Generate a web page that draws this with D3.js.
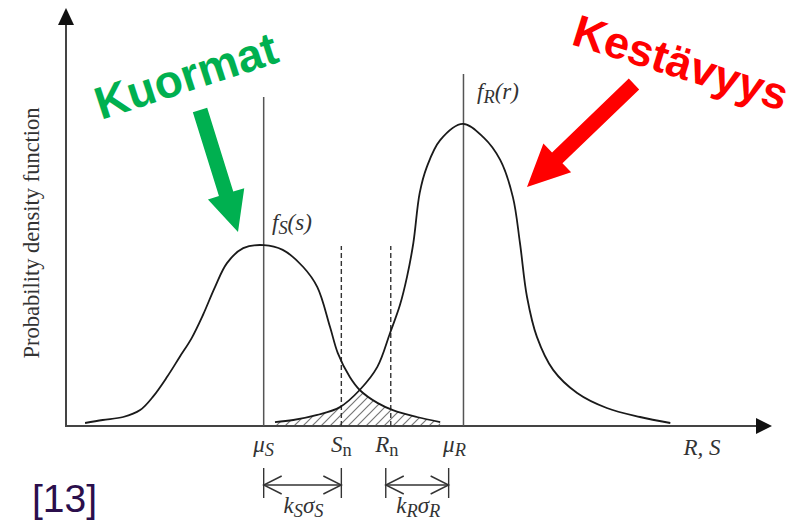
<!DOCTYPE html>
<html>
<head>
<meta charset="utf-8">
<script src="https://cdn.jsdelivr.net/npm/d3@7"></script>
<style>
    html, body { margin: 0; padding: 0; background: #fff; }
    #mainDiv { width: 809px; height: 524px; }
</style>
</head>
<body>
<div id="mainDiv"></div>
<script>
// Load (S) and resistance (R) density curves
var sX = [0.27, 0.52, 0.81, 1.05, 1.23, 1.43, 1.61, 1.78, 1.94, 2.11, 2.28, 2.51, 2.80, 3.07, 3.36, 3.56, 3.74, 3.85, 4.02, 4.16, 4.41, 4.63, 4.97, 5.30];
var sY = [0.01, 0.02, 0.03, 0.053, 0.097, 0.163, 0.23, 0.293, 0.37, 0.463, 0.543, 0.593, 0.603, 0.587, 0.53, 0.463, 0.33, 0.243, 0.163, 0.12, 0.077, 0.053, 0.03, 0.013];
var rX = [2.96, 3.22, 3.56, 3.88, 4.16, 4.41, 4.59, 4.73, 4.83, 4.92, 5.01, 5.11, 5.30, 5.62, 5.91, 6.15, 6.33, 6.43, 6.53, 6.67, 6.90, 7.24, 7.66, 8.13, 8.56];
var rY = [0.013, 0.02, 0.037, 0.063, 0.12, 0.197, 0.31, 0.403, 0.497, 0.61, 0.777, 0.863, 0.953, 1.007, 0.963, 0.887, 0.763, 0.61, 0.43, 0.297, 0.187, 0.11, 0.06, 0.03, 0.01];

// Tick labels on the R, S axis
var tickNames = [ [ 'μ', 'S' ], [ 'S', 'n' ], [ 'R', 'n' ], [ 'μ', 'R' ] ];
var tickValues = [ 2.80, 3.90, 4.60, 5.63 ];

// k*sigma spans
var spanFrom = [ 2.80, 4.50 ];
var spanTo = [ 3.90, 5.42 ];
var spanNames = [ [ 'k', 'S', 'σ', 'S' ], [ 'k', 'R', 'σ', 'R' ] ];

var Chart = Chart || {};

Chart.main = function () {

    var _width = 809, _height = 524,
        _serif = '"Liberation Serif", "DejaVu Serif", serif',
        _sans = '"Liberation Sans", Arial, sans-serif',
        _fs = 23,
        _x = d3.scaleLinear().domain( [ 0, 10 ] ).range( [ 66, 772 ] ),
        _y = d3.scaleLinear().domain( [ 0, 1 ] ).range( [ 426, 126 ] ),
        _svg, _defs, _g;

    _svg = d3.select( '#mainDiv' )
        .append( 'svg' )
        .attr( 'width', _width )
        .attr( 'height', _height );

    _defs = _svg.append( 'defs' );
    _g = _svg.append( 'g' );

    // subscript text helper: parts alternate main / sub
    var _rich = function ( sel, parts, fontSize ) {
        parts.forEach( function ( p, i ) {
            var isSub = i % 2 === 1;
            var sub = sel.append( 'tspan' )
                .attr( 'font-style', ( p === 'n' ) ? 'normal' : 'italic' )
                .attr( 'font-size', isSub ? fontSize * 0.8 : fontSize )
                .text( p );
            if ( isSub ) {
                sub.attr( 'dy', 4 );
            } else if ( i > 0 ) {
                sub.attr( 'dy', -4 );
            }
        } );
        return sel;
    };

    var sPts = sX.map( function ( d, i ) { return [ d, sY[ i ] ]; } ),
        rPts = rX.map( function ( d, i ) { return [ d, rY[ i ] ]; } );

    var line = d3.line()
        .x( function ( d ) { return _x( d[ 0 ] ); } )
        .y( function ( d ) { return _y( d[ 1 ] ); } )
        .curve( d3.curveCatmullRom.alpha( 0.5 ) );

    var area = d3.area()
        .x( function ( d ) { return _x( d[ 0 ] ); } )
        .y0( _y( 0 ) )
        .y1( function ( d ) { return _y( d[ 1 ] ); } )
        .curve( d3.curveCatmullRom.alpha( 0.5 ) );

    // hatch pattern for the overlap
    var pat = _defs.append( 'pattern' )
        .attr( 'id', 'hatch' )
        .attr( 'patternUnits', 'userSpaceOnUse' )
        .attr( 'width', 9 )
        .attr( 'height', 9 );
    pat.append( 'path' )
        .attr( 'd', 'M-2,2 l4,-4 M0,9 l9,-9 M7,11 l4,-4' )
        .attr( 'stroke', '#777' )
        .attr( 'stroke-width', 1.2 );

    _defs.append( 'clipPath' )
        .attr( 'id', 'underS' )
        .append( 'path' )
        .attr( 'd', area( sPts ) );

    _g.append( 'path' )
        .attr( 'd', area( rPts ) )
        .attr( 'fill', 'url(#hatch)' )
        .attr( 'clip-path', 'url(#underS)' );

    // axes
    _g.append( 'line' )
        .attr( 'x1', _x( 0 ) ).attr( 'y1', _y( 0 ) )
        .attr( 'x2', _x( 0 ) ).attr( 'y2', 22 )
        .attr( 'stroke', '#444' ).attr( 'stroke-width', 2 );
    _g.append( 'path' )
        .attr( 'd', 'M' + _x( 0 ) + ',8 L' + ( _x( 0 ) - 8 ) + ',25 L' + ( _x( 0 ) + 8 ) + ',25 Z' )
        .attr( 'fill', '#111' );
    _g.append( 'line' )
        .attr( 'x1', _x( 0 ) - 1 ).attr( 'y1', _y( 0 ) )
        .attr( 'x2', _x( 10 ) - 14 ).attr( 'y2', _y( 0 ) )
        .attr( 'stroke', '#444' ).attr( 'stroke-width', 2 );
    _g.append( 'path' )
        .attr( 'd', 'M' + _x( 10 ) + ',' + _y( 0 ) + ' L' + ( _x( 10 ) - 16 ) + ',' + ( _y( 0 ) - 8 ) + ' L' + ( _x( 10 ) - 16 ) + ',' + ( _y( 0 ) + 8 ) + ' Z' )
        .attr( 'fill', '#111' );

    // mean lines (solid) and nominal values (dashed)
    var lineTops = [ 1.097, 0.6, 0.6, 1.173 ];
    tickValues.forEach( function ( v, i ) {
        var dashed = ( i === 1 || i === 2 );
        _g.append( 'line' )
            .attr( 'x1', _x( v ) ).attr( 'x2', _x( v ) )
            .attr( 'y1', _y( 0 ) ).attr( 'y2', _y( lineTops[ i ] ) )
            .attr( 'stroke', dashed ? '#333' : '#555' )
            .attr( 'stroke-width', dashed ? 1.4 : 1.5 )
            .attr( 'stroke-dasharray', dashed ? '5,3' : null );
    } );

    // curves
    [ sPts, rPts ].forEach( function ( pts ) {
        _g.append( 'path' )
            .attr( 'd', line( pts ) )
            .attr( 'fill', 'none' )
            .attr( 'stroke', '#1a1a1a' )
            .attr( 'stroke-width', 1.8 );
    } );

    // tick labels
    var tickDx = [ 0, 0, -4, -9 ];
    tickValues.forEach( function ( v, i ) {
        var t = _g.append( 'text' )
            .attr( 'x', _x( v ) + tickDx[ i ] )
            .attr( 'y', 452 )
            .attr( 'text-anchor', 'middle' )
            .attr( 'font-family', _serif )
            .attr( 'fill', '#333' );
        _rich( t, tickNames[ i ], _fs );
    } );

    _g.append( 'text' )
        .attr( 'x', 702 ).attr( 'y', 455 )
        .attr( 'text-anchor', 'middle' )
        .attr( 'font-family', _serif )
        .attr( 'font-style', 'italic' )
        .attr( 'font-size', _fs )
        .attr( 'fill', '#333' )
        .text( 'R, S' );

    // k sigma dimension arrows
    spanFrom.forEach( function ( v, i ) {
        var x0 = _x( v ), x1 = _x( spanTo[ i ] ), yy = 485;
        if ( i === 1 ) { x0 = _x( tickValues[ 2 ] ) - 5; }
        var dim = _g.append( 'g' )
            .attr( 'stroke', '#333' )
            .attr( 'stroke-width', 1.4 )
            .attr( 'fill', 'none' );
        dim.append( 'line' ).attr( 'x1', x0 ).attr( 'x2', x0 ).attr( 'y1', 468 ).attr( 'y2', 498 );
        dim.append( 'line' ).attr( 'x1', x1 ).attr( 'x2', x1 ).attr( 'y1', 468 ).attr( 'y2', 498 );
        dim.append( 'line' ).attr( 'x1', x0 ).attr( 'x2', x1 ).attr( 'y1', yy ).attr( 'y2', yy );
        dim.append( 'path' ).attr( 'd', 'M' + ( x0 + 18 ) + ',' + ( yy - 9 ) + ' L' + x0 + ',' + yy + ' L' + ( x0 + 18 ) + ',' + ( yy + 9 ) );
        dim.append( 'path' ).attr( 'd', 'M' + ( x1 - 18 ) + ',' + ( yy - 9 ) + ' L' + x1 + ',' + yy + ' L' + ( x1 - 18 ) + ',' + ( yy + 9 ) );

        var t = _g.append( 'text' )
            .attr( 'x', ( x0 + x1 ) / 2 + 1 )
            .attr( 'y', 513 )
            .attr( 'text-anchor', 'middle' )
            .attr( 'font-family', _serif )
            .attr( 'fill', '#333' );
        _rich( t, spanNames[ i ], _fs );
    } );

    // curve names
    var fs = _g.append( 'text' )
        .attr( 'x', 272 ).attr( 'y', 230 )
        .attr( 'font-family', _serif ).attr( 'fill', '#333' );
    _rich( fs, [ 'f', 'S', '(s)' ], _fs );
    var fr = _g.append( 'text' )
        .attr( 'x', 477 ).attr( 'y', 99 )
        .attr( 'font-family', _serif ).attr( 'fill', '#333' );
    _rich( fr, [ 'f', 'R', '(r)' ], _fs );

    // y axis title
    _g.append( 'text' )
        .attr( 'transform', 'translate(39,233) rotate(-90)' )
        .attr( 'text-anchor', 'middle' )
        .attr( 'font-family', _serif )
        .attr( 'font-size', 22.5 )
        .attr( 'fill', '#333' )
        .text( 'Probability density function' );

    // big annotation arrows
    var _fatArrow = function ( x0, y0, x1, y1, shaft, headW, headL, color ) {
        var len = Math.hypot( x1 - x0, y1 - y0 ),
            ang = Math.atan2( y1 - y0, x1 - x0 ) * 180 / Math.PI,
            s = shaft / 2, h = headW / 2, b = len - headL;
        _g.append( 'path' )
            .attr( 'd', 'M0,' + ( -s ) + ' L' + b + ',' + ( -s ) + ' L' + b + ',' + ( -h ) + ' L' + len + ',0 L' + b + ',' + h + ' L' + b + ',' + s + ' L0,' + s + ' Z' )
            .attr( 'transform', 'translate(' + x0 + ',' + y0 + ') rotate(' + ang + ')' )
            .attr( 'fill', color );
    };
    _fatArrow( 200, 110, 238, 232, 15, 38, 40, '#00b050' );
    _fatArrow( 634, 84, 527, 187, 15, 40, 42, '#ff0000' );

    _g.append( 'text' )
        .attr( 'transform', 'translate(101,120) rotate(-18)' )
        .attr( 'font-family', _sans )
        .attr( 'font-weight', 'bold' )
        .attr( 'font-size', 46 )
        .attr( 'fill', '#00b050' )
        .text( 'Kuormat' );

    _g.append( 'text' )
        .attr( 'transform', 'translate(570,44) rotate(17.5)' )
        .attr( 'font-family', _sans )
        .attr( 'font-weight', 'bold' )
        .attr( 'font-size', 45 )
        .attr( 'fill', '#ff0000' )
        .text( 'Kestävyys' );

    _g.append( 'text' )
        .attr( 'x', 32 ).attr( 'y', 512 )
        .attr( 'font-family', _sans )
        .attr( 'font-size', 39 )
        .attr( 'fill', '#2b0f4c' )
        .text( '[13]' );
}();
</script>
</body>
</html>
